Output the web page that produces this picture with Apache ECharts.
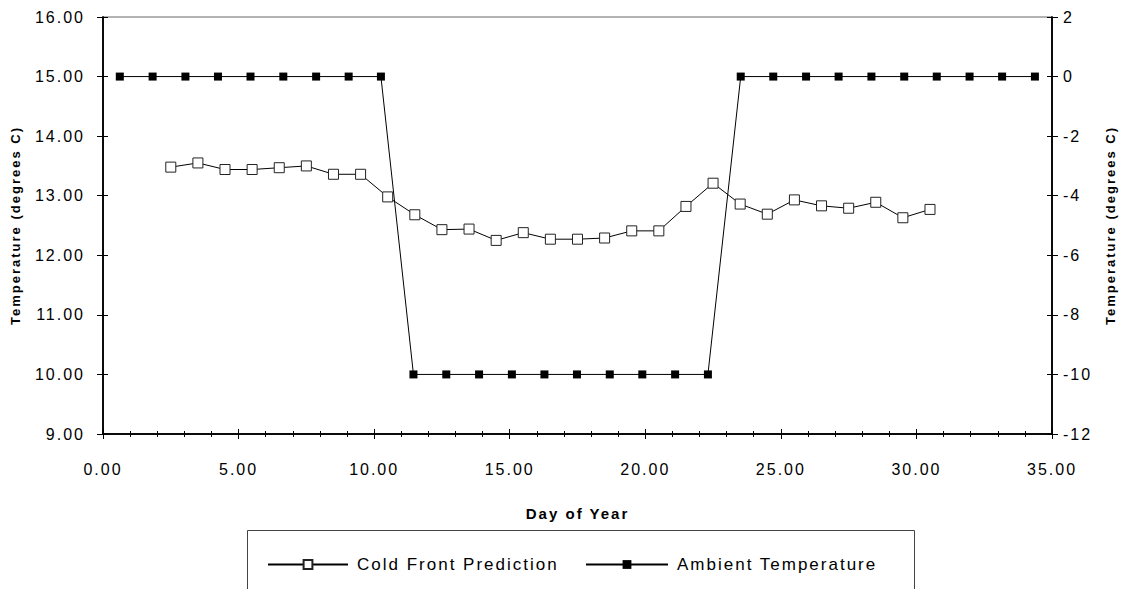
<!DOCTYPE html>
<html>
<head>
<meta charset="utf-8">
<script src="https://cdn.jsdelivr.net/npm/echarts@6/dist/echarts.min.js"></script>
<style>
  html, body { margin: 0; padding: 0; background: #fff; }
  #chart { width: 1133px; height: 589px; }
  /* widen the glyph spacing of every chart label */
  #chart svg text { letter-spacing: 2px; }
</style>
</head>
<body>
<div id="chart"></div>
<script>
// Day positions and readings
const predictionDays = [2.5, 3.5, 4.5, 5.5, 6.5, 7.5, 8.5, 9.5, 10.5, 11.5, 12.5, 13.5, 14.5, 15.5, 16.5,
  17.5, 18.5, 19.5, 20.5, 21.5, 22.5, 23.5, 24.5, 25.5, 26.5, 27.5, 28.5, 29.5, 30.5];
const predictionTemps = [13.48, 13.55, 13.44, 13.44, 13.47, 13.50, 13.36, 13.36, 12.98, 12.68, 12.43, 12.44,
  12.25, 12.38, 12.27, 12.27, 12.29, 12.41, 12.41, 12.82, 13.21, 12.86, 12.69, 12.93, 12.83, 12.79,
  12.89, 12.63, 12.77];

const ambientDays = [0.62, 1.83, 3.04, 4.24, 5.44, 6.65, 7.86, 9.06, 10.25,
  11.45, 12.66, 13.87, 15.08, 16.28, 17.48, 18.69, 19.89, 21.10, 22.31,
  23.52, 24.72, 25.93, 27.13, 28.34, 29.55, 30.75, 31.96, 33.16, 34.37];
const ambientTemps = [0, 0, 0, 0, 0, 0, 0, 0, 0,
  -10, -10, -10, -10, -10, -10, -10, -10, -10, -10,
  0, 0, 0, 0, 0, 0, 0, 0, 0, 0];

const seriesNames = ['Cold Front Prediction', 'Ambient Temperature'];
const xTitle = 'Day of Year';
const yTitle = 'Temperature (degrees C)';

const FONT = 'Liberation Sans, Arial, sans-serif';
const INK = '#000';

const chart = echarts.init(document.getElementById('chart'), null, { renderer: 'svg' });

const pair = (xs, ys) => xs.map((x, i) => [x, ys[i]]);

// each axis is drawn twice: one copy carries labels + outward ticks,
// the other adds the inward half so the ticks cross the axis line
const axisLine = { show: true, onZero: false, lineStyle: { color: INK, width: 1.5 } };
const xBase = {
  type: 'value', min: 0, max: 35, interval: 5, position: 'bottom',
  splitLine: { show: false }, axisLine
};
const yLeftBase = {
  type: 'value', min: 9, max: 16, interval: 1, position: 'left',
  splitLine: { show: false }, axisLine
};
const yRightBase = {
  type: 'value', min: -12, max: 2, interval: 2, position: 'right',
  splitLine: { show: false }, axisLine
};

chart.setOption({
  animation: false,
  backgroundColor: '#fff',
  textStyle: { fontFamily: FONT },
  grid: {
    left: 103, right: 81, top: 17, bottom: 155,
    show: true, borderColor: '#666', borderWidth: 1, backgroundColor: 'transparent'
  },
  xAxis: [
    Object.assign({}, xBase, {
      name: xTitle, nameLocation: 'middle', nameGap: 72,
      nameTextStyle: { fontFamily: FONT, fontSize: 15, fontWeight: 'bold', color: INK },
      axisTick: { show: true, length: 5, lineStyle: { color: INK, width: 1 } },
      minorTick: { show: true, splitNumber: 5, length: 3, lineStyle: { color: INK, width: 1 } },
      axisLabel: { fontFamily: FONT, fontSize: 16, color: INK, margin: 27,
        formatter: v => v.toFixed(2) }
    }),
    Object.assign({}, xBase, {
      axisTick: { show: true, inside: true, length: 5, lineStyle: { color: INK, width: 1 } },
      minorTick: { show: true, splitNumber: 5, length: 3, lineStyle: { color: INK, width: 1 } },
      axisLabel: { show: false }
    })
  ],
  yAxis: [
    Object.assign({}, yLeftBase, {
      name: yTitle, nameLocation: 'middle', nameGap: 81,
      nameTextStyle: { fontFamily: FONT, fontSize: 13, fontWeight: 'bold', color: INK },
      axisTick: { show: true, length: 6, lineStyle: { color: INK, width: 1 } },
      axisLabel: { fontFamily: FONT, fontSize: 16, color: INK, margin: 18,
        formatter: v => v.toFixed(2) }
    }),
    Object.assign({}, yRightBase, {
      name: yTitle, nameLocation: 'middle', nameGap: 52,
      nameTextStyle: { fontFamily: FONT, fontSize: 13, fontWeight: 'bold', color: INK },
      axisTick: { show: true, length: 6, lineStyle: { color: INK, width: 1 } },
      axisLabel: { fontFamily: FONT, fontSize: 16, color: INK, margin: 11 }
    }),
    Object.assign({}, yLeftBase, {
      axisTick: { show: true, inside: true, length: 5, lineStyle: { color: INK, width: 1 } },
      axisLabel: { show: false }
    }),
    Object.assign({}, yRightBase, {
      axisTick: { show: true, inside: true, length: 5, lineStyle: { color: INK, width: 1 } },
      axisLabel: { show: false }
    })
  ],
  legend: [
    {
      data: [seriesNames[0]], left: 262, top: 551,
      itemWidth: 80, itemHeight: 11, itemGap: 0,
      textStyle: { fontFamily: FONT, fontSize: 17, color: INK, padding: [0, 0, 0, 4] }
    },
    {
      data: [seriesNames[1]], left: 580, top: 551,
      itemWidth: 82, itemHeight: 11, itemGap: 0,
      textStyle: { fontFamily: FONT, fontSize: 17, color: INK, padding: [0, 0, 0, 4] }
    }
  ],
  graphic: [
    {
      type: 'rect', left: 247, top: 530, z: -1,
      shape: { width: 667, height: 80 },
      style: { fill: '#fff', stroke: '#444', lineWidth: 1 }
    }
  ],
  series: [
    {
      name: seriesNames[0], type: 'line', xAxisIndex: 0, yAxisIndex: 0,
      data: pair(predictionDays, predictionTemps),
      symbol: 'rect', symbolSize: 10, showAllSymbol: true,
      lineStyle: { color: INK, width: 1 },
      itemStyle: { color: '#fff', borderColor: '#222', borderWidth: 1 },
      z: 3
    },
    {
      name: seriesNames[1], type: 'line', xAxisIndex: 0, yAxisIndex: 1,
      data: pair(ambientDays, ambientTemps),
      symbol: 'rect', symbolSize: 8, showAllSymbol: true,
      lineStyle: { color: INK, width: 1 },
      itemStyle: { color: INK, borderColor: INK, borderWidth: 0 },
      z: 2
    }
  ]
});
</script>
</body>
</html>
